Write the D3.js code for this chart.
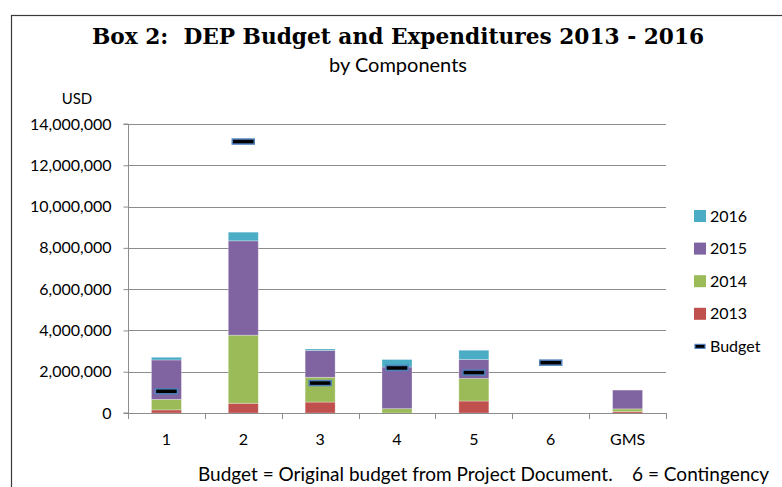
<!DOCTYPE html>
<html>
<head>
<meta charset="utf-8">
<script src="https://cdn.jsdelivr.net/npm/d3@7"></script>
<style>
  html, body { margin: 0; padding: 0; background: #fff; }
  svg { display: block; }
  text { font-family: Lato, "Open Sans", sans-serif; fill: #000; white-space: pre; }
</style>
</head>
<body>
<svg id="chart" width="782" height="487"></svg>
<script>
// Components (categories)
const components = ["1", "2", "3", "4", "5", "6", "GMS"];

// Expenditure by year, USD
const exp2013 = [150000, 470000, 530000, 0, 580000, 0, 70000];
const exp2014 = [510000, 3300000, 1200000, 210000, 1090000, 0, 130000];
const exp2015 = [1910000, 4570000, 1300000, 2020000, 920000, 0, 910000];
const exp2016 = [130000, 420000, 70000, 360000, 450000, 0, 0];

// Original budget from Project Document, USD
const budget = [1050000, 13150000, 1450000, 2180000, 1960000, 2440000, null];

const seriesNames = ["2013", "2014", "2015", "2016"];
const seriesColors = ["#C0504D", "#9BBB59", "#8064A2", "#4BACC6"];
const yTicks = [0, 2000000, 4000000, 6000000, 8000000, 10000000, 12000000, 14000000];

const rows = components.map((c, i) => ({
  component: c,
  "2013": exp2013[i], "2014": exp2014[i], "2015": exp2015[i], "2016": exp2016[i],
  budget: budget[i]
}));

const svg = d3.select("#chart");

// Outer chart frame
svg.append("rect")
  .attr("x", 11.5).attr("y", 15.5)
  .attr("width", 800).attr("height", 500)
  .attr("fill", "none").attr("stroke", "#3a3a3a").attr("stroke-width", 1.2);

const plot = { left: 128, right: 666, top: 124, bottom: 413 };

const x = d3.scaleBand()
  .domain(components)
  .range([plot.left, plot.right])
  .paddingInner(0.61)
  .paddingOuter(0.305);

const y = d3.scaleLinear()
  .domain([0, 14000000])
  .range([plot.bottom, plot.top]);

// Gridlines
svg.append("g")
  .selectAll("line")
  .data(yTicks.filter(t => t > 0))
  .join("line")
  .attr("x1", plot.left).attr("x2", plot.right)
  .attr("y1", d => Math.round(y(d)) + 0.5).attr("y2", d => Math.round(y(d)) + 0.5)
  .attr("stroke", "#8c8c8c").attr("stroke-width", 1);

// Y axis
const yAxis = d3.axisLeft(y)
  .tickValues(yTicks)
  .tickFormat(d3.format(","))
  .tickSize(5)
  .tickPadding(12);

const gy = svg.append("g")
  .attr("transform", `translate(${plot.left + 0.5},0)`)
  .call(yAxis);
gy.select(".domain").attr("stroke", "#8c8c8c").attr("d", `M-5,${plot.bottom}H0V${plot.top}H-5`);
gy.selectAll(".tick line").attr("stroke", "#8c8c8c");
gy.selectAll(".tick text")
  .style("font-family", "Lato, sans-serif")
  .style("font-size", "16px")
  .attr("fill", "#000");

// Stacked bars
const stack = d3.stack().keys(seriesNames);
const stacked = stack(rows);

svg.append("g")
  .selectAll("g")
  .data(stacked)
  .join("g")
  .attr("fill", (d, i) => seriesColors[i])
  .selectAll("rect")
  .data(d => d.filter(s => s[1] - s[0] > 0))
  .join("rect")
  .attr("x", d => x(d.data.component))
  .attr("width", x.bandwidth())
  .attr("y", d => y(d[1]))
  .attr("height", d => y(d[0]) - y(d[1]))
  .attr("stroke", "#ffffff").attr("stroke-opacity", 0.35).attr("stroke-width", 0.8);

// X axis with ticks between categories
const gx = svg.append("g");
gx.append("line")
  .attr("x1", plot.left).attr("x2", plot.right)
  .attr("y1", plot.bottom + 0.5).attr("y2", plot.bottom + 0.5)
  .attr("stroke", "#8c8c8c");
const boundaries = d3.range(components.length + 1).map(i => plot.left + i * x.step());
gx.selectAll("line.tick")
  .data(boundaries)
  .join("line")
  .attr("class", "tick")
  .attr("x1", d => Math.round(d) + 0.5).attr("x2", d => Math.round(d) + 0.5)
  .attr("y1", plot.bottom).attr("y2", plot.bottom + 6)
  .attr("stroke", "#8c8c8c");
gx.selectAll("text")
  .data(components)
  .join("text")
  .attr("x", d => x(d) + x.bandwidth() / 2)
  .attr("y", 439)
  .attr("dy", "0.35em")
  .attr("text-anchor", "middle")
  .style("font-size", "16px")
  .text(d => d);

// Budget markers
svg.append("g")
  .selectAll("rect")
  .data(rows.filter(r => r.budget != null))
  .join("rect")
  .attr("x", d => x(d.component) + x.bandwidth() / 2 - 11)
  .attr("y", d => y(d.budget) - 2.5)
  .attr("width", 22).attr("height", 5)
  .attr("fill", "#000")
  .attr("stroke", "#4F81BD").attr("stroke-width", 1.5);

// Titles
svg.append("text")
  .attr("x", 398).attr("y", 44)
  .attr("text-anchor", "middle")
  .style("font-family", "'DejaVu Serif', 'Liberation Serif', serif")
  .style("font-weight", "bold")
  .style("font-size", "21.7px")
  .text("Box 2:  DEP Budget and Expenditures 2013 - 2016");

svg.append("text")
  .attr("x", 398).attr("y", 72)
  .attr("text-anchor", "middle")
  .style("font-size", "20px")
  .text("by Components");

svg.append("text")
  .attr("x", 77).attr("y", 99)
  .attr("dy", "0.35em")
  .attr("text-anchor", "middle")
  .style("font-size", "15px")
  .text("USD");

// Legend
const legendItems = [
  { name: "2016", color: seriesColors[3] },
  { name: "2015", color: seriesColors[2] },
  { name: "2014", color: seriesColors[1] },
  { name: "2013", color: seriesColors[0] },
  { name: "Budget", color: null }
];
const legend = svg.append("g");
const lg = legend.selectAll("g")
  .data(legendItems)
  .join("g")
  .attr("transform", (d, i) => `translate(694,${216 + i * 32.6})`);
lg.filter(d => d.color)
  .append("rect")
  .attr("x", 0).attr("y", -6).attr("width", 12).attr("height", 12)
  .attr("fill", d => d.color);
lg.filter(d => !d.color)
  .append("rect")
  .attr("x", 1).attr("y", -2).attr("width", 10).attr("height", 4)
  .attr("fill", "#000").attr("stroke", "#4F81BD").attr("stroke-width", 1.2);
lg.append("text")
  .attr("x", 16).attr("dy", "0.35em")
  .style("font-size", "16px")
  .text(d => d.name);

// Footnote
svg.append("text")
  .attr("x", 198).attr("y", 474)
  .attr("dy", "0.35em")
  .style("font-size", "19px")
  .text("Budget = Original budget from Project Document.    6 = Contingency");
</script>
</body>
</html>
